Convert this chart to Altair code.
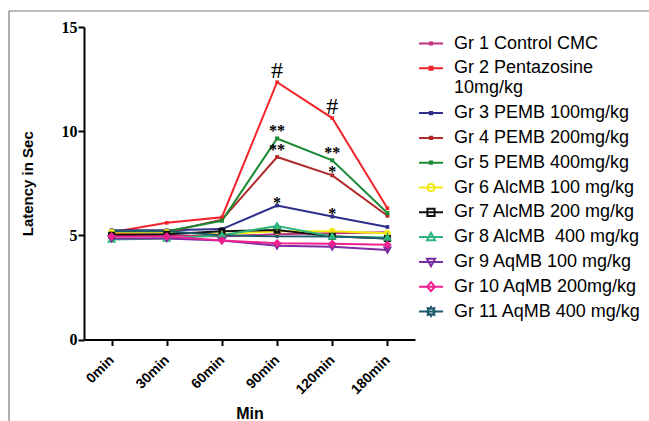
import math
import altair as alt
import pandas as pd

times = ["0min", "30min", "60min", "90min", "120min", "180min"]
groups = [
    "Gr 1 Control CMC",
    "Gr 2 Pentazosine 10mg/kg",
    "Gr 3 PEMB 100mg/kg",
    "Gr 4 PEMB 200mg/kg",
    "Gr 5 PEMB 400mg/kg",
    "Gr 6 AlcMB 100 mg/kg",
    "Gr 7 AlcMB 200 mg/kg",
    "Gr 8 AlcMB \u00a0400 mg/kg",
    "Gr 9 AqMB 100 mg/kg",
    "Gr 10 AqMB 200mg/kg",
    "Gr 11 AqMB 400 mg/kg",
]

g1 = [5.0, 5.0, 4.95, 5.05, 5.1, 5.15]
g2 = [5.15, 5.6, 5.87, 12.35, 10.63, 6.3]
g3 = [5.25, 5.25, 5.3, 6.43, 5.9, 5.4]
g4 = [5.1, 5.15, 5.75, 8.76, 7.88, 5.94]
g5 = [5.2, 5.2, 5.7, 9.65, 8.6, 6.07]
g6 = [5.15, 5.15, 5.05, 5.2, 5.2, 5.1]
g7 = [5.0, 5.05, 5.2, 5.25, 4.95, 4.85]
g8 = [4.8, 4.85, 5.0, 5.45, 4.95, 4.9]
g9 = [4.85, 4.85, 4.75, 4.5, 4.45, 4.3]
g10 = [4.95, 4.95, 4.75, 4.62, 4.6, 4.55]
g11 = [5.2, 5.2, 5.0, 4.95, 4.95, 4.85]
series = [g1, g2, g3, g4, g5, g6, g7, g8, g9, g10, g11]

# significance marks: (group index, time, text)
ann_group = [1, 1, 4, 3, 4, 3, 2, 2]
ann_time = ["90min", "120min", "90min", "90min", "120min", "120min", "90min", "120min"]
ann_text = ["#", "#", "**", "**", "**", "*", "*", "*"]

colors = ["#c2307e", "#f0242a", "#2e2e8c", "#b02a2a", "#1b8a35", "#f2ea0c",
          "#111111", "#2fb57c", "#7a2ca0", "#f0208f", "#1d5a6c"]

rows = []
for g, vals in zip(groups, series):
    for t, v in zip(times, vals):
        rows.append({"group": g, "time": t, "value": v})
df = pd.DataFrame(rows)

ann = pd.DataFrame({
    "time": ann_time,
    "text": ann_text,
    "value": [series[gi][times.index(t)] for gi, t in zip(ann_group, ann_time)],
})
hash_df = ann[ann["text"] == "#"]
dstar_df = ann[ann["text"] == "**"]
star_df = ann[ann["text"] == "*"]


def star_path(r_out, r_in, n=8):
    pts = []
    for k in range(2 * n):
        r = r_out if k % 2 == 0 else r_in
        a = math.pi * k / n - math.pi / 2
        pts.append(f"{r * math.cos(a):.3f},{r * math.sin(a):.3f}")
    return "M" + "L".join(pts) + "Z"


LINE = "M-1,0H1"
small = lambda s: f"M-{s},-{s}H{s}V{s}H-{s}Z"
circ = "M-0.3,0A0.3,0.3 0 1,0 0.3,0A0.3,0.3 0 1,0 -0.3,0Z"
sq = "M-0.3,-0.3H0.3V0.3H-0.3Z"
tri_up = "M0,-0.36L0.34,0.26H-0.34Z"
tri_dn = "M0,0.36L0.34,-0.26H-0.34Z"
diam = "M0,-0.38L0.32,0L0,0.38L-0.32,0Z"
legend_paths = [LINE + small(0.09), LINE + small(0.12), LINE + small(0.09),
                LINE + small(0.09), LINE + small(0.09), LINE + circ, LINE + sq,
                LINE + tri_up, LINE + tri_dn, LINE + diam, LINE + star_path(0.38, 0.24)]

plot_shapes = ["square", "square", "square", "square", "square", "circle", "square",
               "triangle-up", "triangle-down", "diamond", star_path(1, 0.72)]
plot_sizes = [12, 22, 12, 12, 12, 110, 100, 115, 115, 115, 175]

xscale = alt.Scale(domain=times, padding=0.5)
yscale = alt.Scale(domain=[0, 15], nice=False)
cscale = alt.Scale(domain=groups, range=colors)

X = alt.X("time:N", scale=xscale, sort=times,
          axis=alt.Axis(title="Min", labelAngle=-45, labelAlign="right",
                        labelBaseline="middle", labelPadding=12, titlePadding=9,
                        labelFont="Liberation Sans", labelFontWeight="bold",
                        labelFontSize=14, titleFont="Liberation Sans",
                        titleFontWeight="bold", titleFontSize=16))
Y = alt.Y("value:Q", scale=yscale,
          axis=alt.Axis(title="Latency in Sec", values=[0, 5, 10, 15], labelPadding=1,
                        titlePadding=26, labelFont="Liberation Serif",
                        labelFontWeight="bold", labelFontSize=16,
                        titleFont="Liberation Sans", titleFontWeight="bold",
                        titleFontSize=15))

base = alt.Chart(df)

lines = base.mark_line(strokeWidth=2).encode(
    x=X, y=Y,
    color=alt.Color("group:N", scale=cscale, legend=None),
    detail="group:N",
    order=alt.Order("time_idx:Q"),
).transform_calculate(time_idx="indexof(%s, datum.time)" % str(times))

shape_scale = alt.Scale(domain=groups, range=plot_shapes)
size_scale = alt.Scale(domain=groups, range=plot_sizes)
open_groups = groups[5:10]
filled_groups = groups[:5] + groups[10:]

pts_filled = base.transform_filter(
    alt.FieldOneOfPredicate(field="group", oneOf=filled_groups)
).mark_point(filled=True, opacity=1).encode(
    x=X, y=Y,
    color=alt.Color("group:N", scale=cscale, legend=None),
    shape=alt.Shape("group:N", scale=shape_scale, legend=None),
    size=alt.Size("group:N", scale=size_scale, legend=None),
)

pts_open = base.transform_filter(
    alt.FieldOneOfPredicate(field="group", oneOf=open_groups)
).mark_point(filled=False, opacity=1, strokeWidth=2.8).encode(
    x=X, y=Y,
    color=alt.Color("group:N", scale=cscale, legend=None),
    shape=alt.Shape("group:N", scale=shape_scale, legend=None),
    size=alt.Size("group:N", scale=size_scale, legend=None),
)

label_expr = ("datum.label == 'Gr 2 Pentazosine 10mg/kg' ? "
              "['Gr 2 Pentazosine', '10mg/kg'] : datum.label")
leg = alt.Legend(title=None, orient="none", legendX=334, legendY=3.5, padding=0,
                 symbolSize=576, symbolStrokeWidth=2, labelFont="Liberation Sans",
                 labelFontSize=18, labelColor="black", labelOffset=10, labelLimit=400,
                 rowPadding=2.8, labelExpr=label_expr)

legend_layer = base.transform_filter("false").mark_point(filled=False, opacity=1).encode(
    color=alt.Color("group:N", scale=cscale, legend=leg),
    shape=alt.Shape("group:N", scale=alt.Scale(domain=groups, range=legend_paths), legend=leg),
)

hash_marks = alt.Chart(hash_df).mark_text(
    font="Liberation Serif", fontSize=24, color="black", baseline="alphabetic", dy=-4
).encode(x=X, y=Y, text="text:N")

dstar_marks = alt.Chart(dstar_df).mark_text(
    font="Liberation Serif", fontSize=16, fontWeight="bold", color="black",
    baseline="alphabetic", dy=-2
).encode(x=X, y=Y, text="text:N")

star_marks = alt.Chart(star_df).mark_text(
    font="Liberation Serif", fontSize=16, fontWeight="bold", color="black",
    baseline="alphabetic", dy=2
).encode(x=X, y=Y, text="text:N")

one = alt.Data(values=[{}])
border_top = alt.Chart(one).mark_rule(color="#7a7a7a", strokeWidth=1.2).encode(
    x=alt.value(-75), x2=alt.value(565), y=alt.value(-16))
border_left = alt.Chart(one).mark_rule(color="#7a7a7a", strokeWidth=1.2).encode(
    x=alt.value(-75), y=alt.value(-16), y2=alt.value(394))

chart = alt.layer(
    lines, pts_filled, pts_open, hash_marks, dstar_marks, star_marks, legend_layer,
    border_top, border_left
).resolve_scale(
    color="independent", shape="independent", size="independent"
).properties(
    width=331, height=312.5,
    padding={"left": 84, "top": 27, "right": 234, "bottom": 81.5},
    autosize=alt.AutoSizeParams(type="none"),
    background="white",
).configure_view(stroke=None).configure_axis(
    domainColor="black", domainWidth=2, tickColor="black", tickWidth=2, tickSize=6,
    grid=False, labelColor="black", titleColor="black",
)

chart.save("out.html", embed_options={"renderer": "svg", "actions": False})
